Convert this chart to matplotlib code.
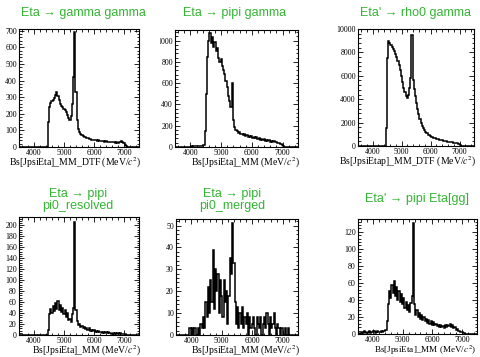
import numpy as np
import matplotlib
matplotlib.use("Agg")
import matplotlib.pyplot as plt
from matplotlib.ticker import MultipleLocator, AutoMinorLocator
from matplotlib.transforms import Bbox, TransformedBbox

plt.rcParams["font.family"] = ["Liberation Serif", "DejaVu Serif"]
plt.rcParams["mathtext.fontset"] = "stix"

# 40 MeV bins from 3500 to 7500 MeV
MASS_LO, MASS_HI, N_BINS = 3500, 7500, 100

eta_gg = [0] * 24 + [
    150, 240, 265, 275, 285, 295, 310, 330, 305, 285, 260, 245, 240, 230, 225, 210,
    195, 175, 165, 185, 260, 420, 690, 330, 160, 110, 90, 78, 72, 66, 60, 58,
    52, 55, 48, 46, 45, 42, 44, 40, 42, 38, 40, 36, 38, 35, 36, 33,
    35, 32, 33, 30, 31, 29, 30, 28, 27, 28, 26, 30, 33, 34, 30, 22,
    12, 4] + [0] * 10

eta_pipig = [0] * 13 + [5, 4, 6, 5, 6, 5, 7, 6, 8, 10, 20] + [
    150, 500, 850, 1000, 1070, 980, 1030, 940, 990, 900, 930, 840, 800, 830, 760, 720,
    690, 620, 560, 480, 430, 380, 600, 250, 190, 160, 150, 130, 145, 120, 125, 110,
    120, 100, 115, 95, 105, 90, 100, 85, 95, 80, 90, 75, 85, 70, 78, 65,
    72, 60, 68, 55, 62, 50, 58, 48, 52, 45, 48, 38, 40, 30, 28, 18,
    10, 4] + [0] * 10

etap_rhog = [0] * 24 + [
    1500, 7500, 9000, 8800, 8600, 8500, 8300, 8100, 7900, 7600, 7300, 6900, 6500, 6000, 5500, 5000,
    4600, 4250, 4100, 4400, 5000, 5800, 9500, 5600, 4900, 4300, 3700, 3200, 2700, 2300, 2000, 1750,
    1550, 1350, 1200, 1080, 980, 900, 840, 780, 730, 690, 650, 620, 590, 560, 530, 510,
    480, 460, 440, 420, 400, 380, 360, 340, 320, 300, 280, 260, 250, 230, 200, 150,
    80, 30] + [0] * 10

eta_3pi_res = [0] * 24 + [
    10, 38, 48, 40, 52, 44, 58, 48, 62, 45, 55, 42, 50, 38, 45, 33,
    40, 28, 30, 24, 38, 50, 205, 45, 25, 18, 20, 14, 17, 12, 15, 11,
    13, 9, 12, 8, 10, 7, 9, 6, 8, 5, 7, 5, 6, 4, 6, 4,
    5, 3, 5, 3, 4, 2, 4, 2, 3, 2, 3, 1, 3, 2, 2, 1,
    1, 0] + [0] * 10

eta_3pi_mrg = [0] * 10 + [
    0, 3, 0, 3, 0, 3, 0, 0, 3, 0, 5, 3, 8, 3, 15, 8,
    22, 10, 25, 15, 39, 12, 30, 20, 28, 10, 25, 18, 8, 25, 15, 20,
    5, 18, 35, 28, 51, 33, 15, 5, 13, 3, 10, 5, 13, 3, 8, 5,
    10, 0, 8, 3, 5, 8, 3, 0, 8, 5, 3, 8, 0, 5, 8, 3,
    10, 5, 0, 8, 3, 5, 10, 3, 0, 5, 3, 0, 3, 3, 0, 3,
    0, 0, 3] + [0] * 7

etap_pipieta = [0, 0, 1, 2, 1, 3, 2, 1, 2, 3, 1, 2, 2, 3, 1, 2, 3, 2, 2, 3, 2, 3, 3, 5] + [
    15, 35, 50, 42, 58, 48, 62, 45, 55, 40, 50, 38, 47, 35, 42, 30,
    38, 28, 34, 26, 36, 45, 130, 35, 22, 28, 20, 25, 18, 22, 16, 20,
    15, 18, 13, 16, 12, 15, 11, 14, 10, 12, 9, 11, 8, 10, 8, 9,
    7, 10, 8, 11, 9, 12, 8, 10, 7, 8, 5, 6, 4, 3, 2, 2,
    1, 1] + [0] * 10

ARROW = "\u2192"
panels = [
    (eta_gg, f"Eta {ARROW} gamma gamma", "Bs[JpsiEta]_MM_DTF (MeV/$c^2$)", (0, 710), 100),
    (eta_pipig, f"Eta {ARROW} pipi gamma", "Bs[JpsiEta]_MM (MeV/$c^2$)", (0, 1100), 200),
    (etap_rhog, f"Eta' {ARROW} rho0 gamma", "Bs[JpsiEtap]_MM_DTF (MeV/$c^2$)", (0, 10000), 2000),
    (eta_3pi_res, f"Eta {ARROW} pipi\npi0_resolved", "Bs[JpsiEta]_MM (MeV/$c^2$)", (0, 215), 20),
    (eta_3pi_mrg, f"Eta {ARROW} pipi\npi0_merged", "Bs[JpsiEta]_MM (MeV/$c^2$)", (0, 53), 10),
    (etap_pipieta, f"Eta' {ARROW} pipi Eta[gg]", "Bs[JpsiEta]_MM (MeV/$c^2$)", (0, 135), 20),
]

# axes boxes in pixels: left, top, right, bottom
W, H = 480, 357
boxes = [
    (19, 29, 139, 147),
    (175, 30, 298, 147),
    (358, 29, 474, 146),
    (19, 217, 139, 335),
    (176, 219, 298, 335),
    (358, 219, 477, 334),
]
# title centres (x, y) in pixels
title_pos = [(83, 13), (235, 13), (415, 13), (78, 200), (232, 200), (417, 199)]
# left edge of each image tile, tick labels are cut there
tile_left = [0, 160, 320, 0, 160, 320]
# x-title anchor (right end, top) in axes fraction, and size
xlab_pos = [(1.02, -0.075, 7), (1.02, -0.075, 7), (1.02, -0.075, 7),
            (1.02, -0.075, 7), (1.02, -0.075, 7), (0.995, -0.08, 6.6)]

edges = np.linspace(MASS_LO, MASS_HI, N_BINS + 1)

fig = plt.figure(figsize=(W / 100, H / 100), dpi=100)

for (vals, title, xlabel, ylim, ystep), (l, t, r, b), (tx, ty), cut, (lx, ly, lfs) in zip(
        panels, boxes, title_pos, tile_left, xlab_pos):
    ax = fig.add_axes([l / W, 1 - b / H, (r - l) / W, (b - t) / H])
    ax.stairs(np.array(vals, dtype=float), edges, color="black", lw=1.1)
    ax.set_xlim(MASS_LO, MASS_HI)
    ax.set_ylim(*ylim)
    ax.xaxis.set_major_locator(MultipleLocator(1000))
    ax.xaxis.set_minor_locator(MultipleLocator(200))
    ax.yaxis.set_major_locator(MultipleLocator(ystep))
    ax.yaxis.set_minor_locator(AutoMinorLocator(5))
    ax.tick_params(which="both", direction="in", top=True, right=True, labelsize=5.7, pad=1.5, width=0.6)
    ax.tick_params(which="major", length=3.5)
    ax.tick_params(which="minor", length=1.8)
    for s in ax.spines.values():
        s.set_linewidth(0.8)
    ax.set_xlabel(xlabel, fontsize=lfs, ha="right")
    ax.xaxis.set_label_coords(lx, ly)
    clip = TransformedBbox(Bbox([[cut / W, 0], [1, 1]]), fig.transFigure)
    for lab in ax.get_yticklabels():
        lab.set_clip_box(clip)
        lab.set_clip_on(True)
    fig.text(tx / W, 1 - ty / H, title, ha="center", va="center", fontsize=9,
             color="#33b533", family=["Liberation Sans", "DejaVu Sans"], linespacing=1.05)

fig.savefig("out.png", dpi=100)
